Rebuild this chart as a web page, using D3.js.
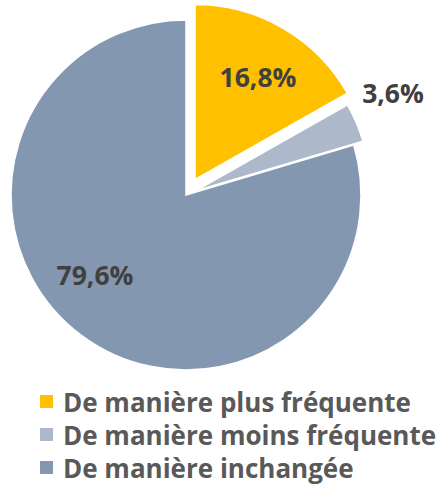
<!DOCTYPE html>
<html><head><meta charset="utf-8">
<script src="https://cdn.jsdelivr.net/npm/d3@7"></script>
<style>body{margin:0;background:#fff}</style>
</head><body>
<svg id="c" width="447" height="486"></svg>
<script>
const categories = ["De manière plus fréquente", "De manière moins fréquente", "De manière inchangée"];
const values = [16.8, 3.6, 79.6];
const labels = ["16,8%", "3,6%", "79,6%"];
const colors = ["#FFC000", "#ADB9CA", "#8497B0"];
const explode = [18, 10, 0];

const svg = d3.select("#c");
const cx = 186, cy = 195, r = 175;
const pie = d3.pie().sort(null).value(d => d)(values);
const arc = d3.arc().innerRadius(0).outerRadius(r);
const g = svg.append("g").attr("transform", `translate(${cx},${cy})`);
g.selectAll("path").data(pie).join("path")
  .attr("d", arc)
  .attr("fill", (d, i) => colors[i])
  .attr("stroke", "#fff").attr("stroke-width", 1.5)
  .attr("transform", (d, i) => {
    const a = (d.startAngle + d.endAngle) / 2;
    return `translate(${Math.sin(a) * explode[i]},${-Math.cos(a) * explode[i]})`;
  });

const labelPos = [[258, 77], [393, 93], [95, 275]];
svg.selectAll("text.lab").data(labels).join("text").attr("class", "lab")
  .attr("x", (d, i) => labelPos[i][0]).attr("y", (d, i) => labelPos[i][1])
  .attr("text-anchor", "middle").attr("dominant-baseline", "central")
  .attr("font-family", "'Open Sans', sans-serif").attr("font-weight", "bold")
  .attr("font-size", 26.5).attr("fill", "#404040").text(d => d);

const leg = svg.append("g");
categories.forEach((c, i) => {
  const y = 402 + i * 33;
  leg.append("rect").attr("x", 40).attr("y", y - 7).attr("width", 13).attr("height", 13).attr("fill", colors[i]);
  leg.append("text").attr("x", 63).attr("y", y).attr("dominant-baseline", "central")
    .attr("font-family", "'Open Sans', sans-serif").attr("font-weight", "bold")
    .attr("font-size", 26).attr("fill", "#595959").text(c);
});
</script>
</body></html>
